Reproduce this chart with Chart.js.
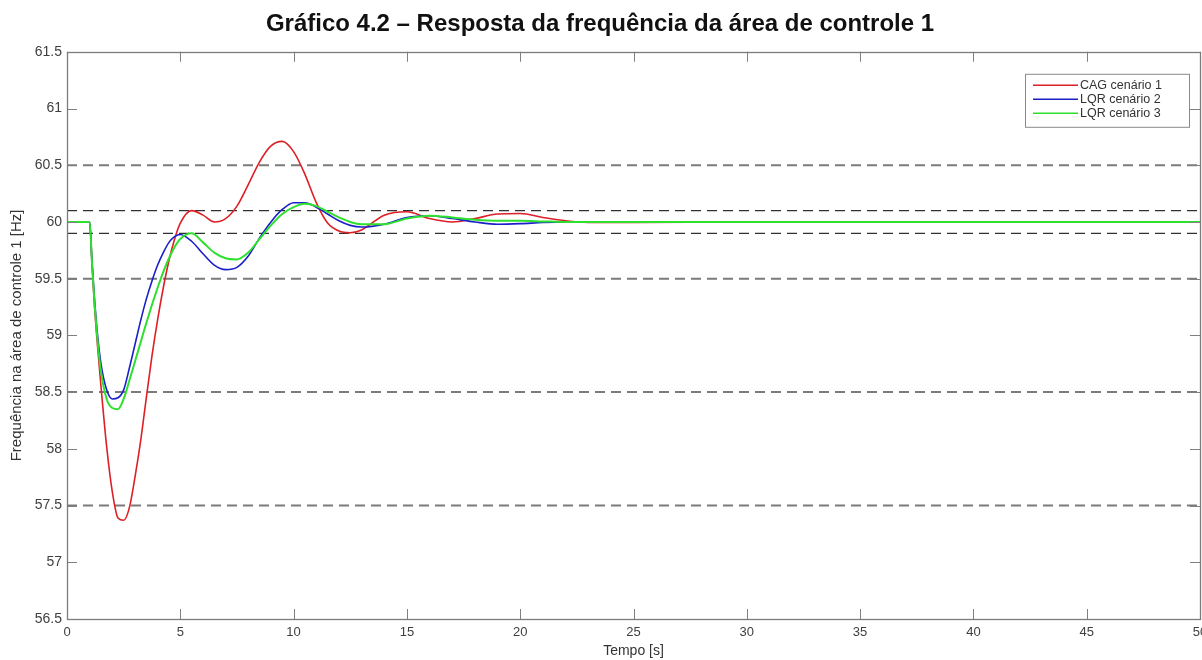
<!DOCTYPE html>
<html lang="pt-BR">
<head>
<meta charset="utf-8">
<title>Gráfico 4.2</title>
<script src="https://cdn.jsdelivr.net/npm/chart.js@4.4.0/dist/chart.umd.min.js"></script>
<style>
  html, body { margin: 0; padding: 0; background: #fff; }
  canvas { display: block; }
</style>
</head>
<body>
<canvas id="graficoFrequencia" width="1202" height="660"></canvas>
<script>
// Tempo de simulação [s], comum às três curvas
const tempo = [0, 1, 1.1, 1.2, 1.35, 1.5, 1.75, 2, 2.25, 2.5, 2.75, 3, 3.25, 3.5, 3.75, 4, 4.25, 4.5, 4.75, 5,
  5.5, 6, 6.5, 7, 7.5, 8, 8.5, 9, 9.5, 10, 10.5, 11, 11.5, 12, 12.5, 13, 14, 15, 16, 17, 18, 19, 20, 21, 22, 23, 25, 30, 40, 50];

// Frequência [Hz]
const cagCenario1 = [60, 60, 59.65, 59.3, 58.9, 58.55, 58.02, 57.62, 57.39, 57.37, 57.48, 57.75, 58.07, 58.45, 58.82, 59.14, 59.42, 59.66, 59.85, 59.99,
  60.1, 60.06, 60.0, 60.03, 60.14, 60.33, 60.53, 60.67, 60.71, 60.62, 60.42, 60.17, 59.99, 59.92, 59.905, 59.93, 60.06, 60.09, 60.03, 60.0, 60.03, 60.07, 60.075, 60.04, 60.01, 59.995, 59.995, 60, 60, 60];
const lqrCenario2 = [60, 60, 59.66, 59.36, 59.0, 58.75, 58.52, 58.44, 58.45, 58.52, 58.71, 58.92, 59.13, 59.32, 59.48, 59.62, 59.73, 59.82, 59.87, 59.89,
  59.83, 59.72, 59.62, 59.58, 59.6, 59.7, 59.86, 60.0, 60.11, 60.17, 60.17, 60.13, 60.07, 60.01, 59.97, 59.955, 59.98, 60.04, 60.055, 60.03, 60.0, 59.98, 59.985, 59.995, 60, 60, 60, 60, 60, 60];
const lqrCenario3 = [60, 60, 59.65, 59.33, 58.95, 58.68, 58.44, 58.36, 58.35, 58.44, 58.6, 58.77, 58.94, 59.11, 59.27, 59.42, 59.56, 59.68, 59.78, 59.85,
  59.9, 59.82, 59.73, 59.68, 59.67, 59.73, 59.85, 59.97, 60.07, 60.13, 60.16, 60.14, 60.09, 60.04, 60.0, 59.98, 59.98, 60.03, 60.055, 60.04, 60.02, 60.01, 60.01, 60.005, 60, 60, 60, 60, 60, 60];

// Linhas tracejadas de referência [Hz]
const limitesLargos = [60.5, 59.5, 58.5, 57.5];
const limitesEstreitos = [60.1, 59.9];

const ticksX = [0, 5, 10, 15, 20, 25, 30, 35, 40, 45, 50];
const ticksY = [56.5, 57, 57.5, 58, 58.5, 59, 59.5, 60, 60.5, 61, 61.5];

const fonte = "'Liberation Sans', Arial, sans-serif";

const pontos = (serie) => tempo.map((t, i) => ({ x: t, y: serie[i] }));
const horizontal = (v) => [{ x: ticksX[0], y: v }, { x: ticksX[ticksX.length - 1], y: v }];

const curvas = [
  { label: 'CAG cenário 1', data: pontos(cagCenario1), borderColor: '#dd1f26', borderWidth: 1.6, order: 2, legenda: true },
  { label: 'LQR cenário 2', data: pontos(lqrCenario2), borderColor: '#1a1fc8', borderWidth: 1.6, order: 1, legenda: true },
  { label: 'LQR cenário 3', data: pontos(lqrCenario3), borderColor: '#2ee02e', borderWidth: 2, order: 0, legenda: true }
];
const tracejadas = limitesLargos.map(v => ({
  label: 'ref ' + v, data: horizontal(v), borderColor: '#7a7a7a', borderWidth: 2, borderDash: [10, 6], order: 3
})).concat(limitesEstreitos.map(v => ({
  label: 'ref ' + v, data: horizontal(v), borderColor: '#303030', borderWidth: 1.2, borderDash: [10, 6], order: 3
})));

// moldura do eixo com marcas para dentro (estilo MATLAB)
const moldura = {
  id: 'moldura',
  afterDatasetsDraw(chart) {
    const { ctx, chartArea: a, scales } = chart;
    const tam = 10;
    ctx.save();
    ctx.strokeStyle = '#808080';
    ctx.lineWidth = 1;
    ctx.beginPath();
    ticksX.forEach(v => {
      const px = Math.round(scales.x.getPixelForValue(v)) + 0.5;
      ctx.moveTo(px, a.bottom); ctx.lineTo(px, a.bottom - tam);
      ctx.moveTo(px, a.top); ctx.lineTo(px, a.top + tam);
    });
    ticksY.forEach(v => {
      const py = Math.round(scales.y.getPixelForValue(v)) + 0.5;
      ctx.moveTo(a.left, py); ctx.lineTo(a.left + tam, py);
      ctx.moveTo(a.right, py); ctx.lineTo(a.right - tam, py);
    });
    ctx.stroke();
    ctx.strokeStyle = '#7c7c7c';
    ctx.lineWidth = 1.3;
    ctx.strokeRect(Math.round(a.left) + 0.5, Math.round(a.top) + 0.5, Math.round(a.right - a.left), Math.round(a.bottom - a.top));
    ctx.restore();
  }
};

// legenda dentro da área do gráfico, canto superior direito
const legendaInterna = {
  id: 'legendaInterna',
  afterDraw(chart) {
    const { ctx, chartArea: a } = chart;
    const itens = chart.data.datasets.filter(d => d.legenda);
    const larg = 164, alt = 53;
    const x0 = a.right - 11 - larg, y0 = a.top + 22;
    ctx.save();
    ctx.fillStyle = '#fff';
    ctx.fillRect(x0, y0, larg, alt);
    ctx.strokeStyle = '#8a8a8a';
    ctx.lineWidth = 1;
    ctx.strokeRect(x0 + 0.5, y0 + 0.5, larg, alt);
    ctx.font = '12.5px ' + fonte;
    ctx.textBaseline = 'middle';
    ctx.fillStyle = '#333';
    itens.forEach((d, i) => {
      const y = y0 + 11.5 + i * 14;
      ctx.strokeStyle = d.borderColor;
      ctx.lineWidth = 1.6;
      ctx.beginPath();
      ctx.moveTo(x0 + 8, y); ctx.lineTo(x0 + 53, y);
      ctx.stroke();
      ctx.fillText(d.label, x0 + 55, y + 0.5);
    });
    ctx.restore();
  }
};

new Chart(document.getElementById('graficoFrequencia'), {
  type: 'line',
  data: { datasets: curvas.concat(tracejadas) },
  options: {
    responsive: false,
    animation: false,
    devicePixelRatio: 1,
    layout: { padding: { left: 0, right: 2, top: 0, bottom: 0 } },
    elements: {
      point: { radius: 0 },
      line: { cubicInterpolationMode: 'monotone', fill: false }
    },
    plugins: {
      legend: { display: false },
      tooltip: { enabled: false },
      title: {
        display: true,
        text: 'Gráfico 4.2 – Resposta da frequência da área de controle 1',
        color: '#111',
        font: { family: fonte, size: 24, weight: 'bold' },
        padding: { top: 10, bottom: 13 }
      }
    },
    scales: {
      x: {
        type: 'linear',
        min: 0, max: 50,
        grid: { display: false, drawTicks: false },
        border: { display: false },
        afterBuildTicks: (s) => { s.ticks = ticksX.map(v => ({ value: v })); },
        afterFit: (s) => { s.height = 41; s.paddingLeft = 0; s.paddingRight = 0; },
        ticks: {
          color: '#404040', padding: 6, maxRotation: 0, autoSkip: false,
          font: { family: fonte, size: 13 },
          callback: (v) => String(v)
        },
        title: {
          display: true, text: 'Tempo [s]', color: '#333',
          font: { family: fonte, size: 14 }, padding: { top: 0, bottom: 0 }
        }
      },
      y: {
        type: 'linear',
        min: 56.5, max: 61.5,
        grid: { display: false, drawTicks: false },
        border: { display: false },
        afterBuildTicks: (s) => { s.ticks = ticksY.map(v => ({ value: v })); },
        afterFit: (s) => { s.width = 67; },
        ticks: {
          color: '#404040', padding: 5, autoSkip: false,
          font: { family: fonte, size: 14 },
          callback: (v) => String(v)
        },
        title: {
          display: true, text: 'Frequência na área de controle 1 [Hz]', color: '#333',
          font: { family: fonte, size: 15 }, padding: { top: 8, bottom: 0 }
        }
      }
    }
  },
  plugins: [moldura, legendaInterna]
});
</script>
</body>
</html>
